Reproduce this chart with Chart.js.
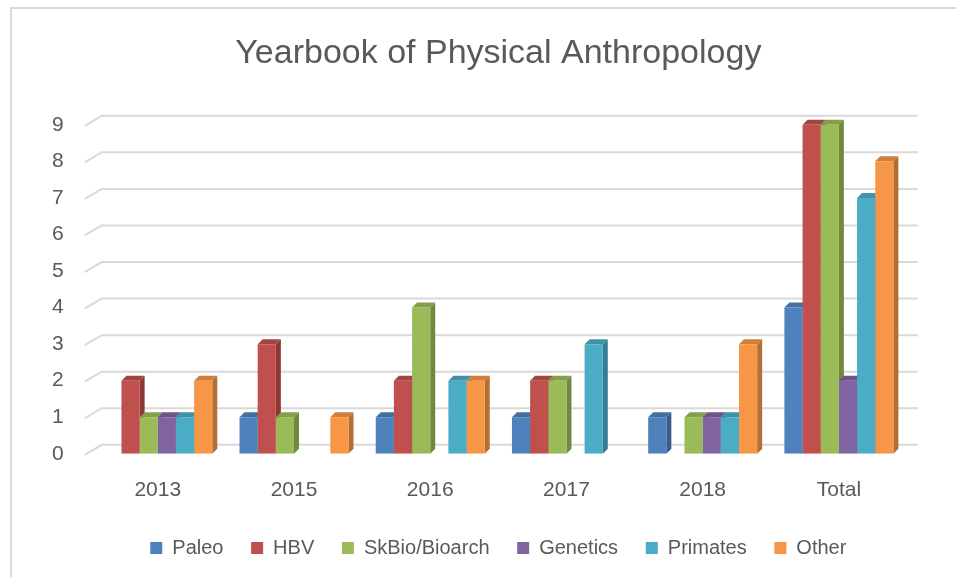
<!DOCTYPE html>
<html>
<head>
<meta charset="utf-8">
<script src="https://cdn.jsdelivr.net/npm/chart.js@4"></script>
<style>
  html, body { margin: 0; padding: 0; background: #fff; overflow: hidden; }
  #wrap { position: relative; width: 956px; height: 577px; }
  #frame { position: absolute; left: 10px; top: 7px; right: -10px; bottom: -10px;
           border-left: 2px solid #d9d9d9; border-top: 2px solid #d9d9d9; }
  canvas { position: absolute; left: 0; top: 0; }
</style>
</head>
<body>
<div id="wrap">
  <div id="frame"></div>
  <canvas id="chart" width="956" height="577"></canvas>
</div>
<script>
const years = ['2013', '2015', '2016', '2017', '2018', 'Total'];
const paleo = [0, 1, 1, 1, 1, 4];
const hbv = [2, 3, 2, 2, 0, 9];
const skbio = [1, 1, 4, 2, 1, 9];
const genetics = [1, 0, 0, 0, 1, 2];
const primates = [1, 0, 2, 3, 1, 7];
const other = [2, 1, 2, 0, 3, 8];
const yTicks = [0, 1, 2, 3, 4, 5, 6, 7, 8, 9];

const seriesNames = ['Paleo', 'HBV', 'SkBio/Bioarch', 'Genetics', 'Primates', 'Other'];
const frontColors = ['#4F81BD', '#C0504D', '#9BBB59', '#8064A2', '#4BACC6', '#F79646'];
const sideColors = ['#385D8A', '#8C3836', '#71893F', '#5C4776', '#357D91', '#B66D31'];
const topColors = ['#44709F', '#A44441', '#849F4B', '#6D5589', '#4092A8', '#D27F3B'];

const txt = '#595959';
const font = "'Liberation Sans', Arial, sans-serif";

// back wall gridlines with a short diagonal from the front edge
const gridPlugin = {
  id: 'grid3d',
  beforeDatasetsDraw(chart) {
    const ctx = chart.ctx;
    const area = chart.chartArea;
    const ys = chart.scales.y;
    ctx.save();
    ctx.strokeStyle = '#d9d9d9';
    ctx.lineWidth = 2;
    yTicks.forEach(v => {
      const y = ys.getPixelForValue(v);
      ctx.beginPath();
      ctx.moveTo(area.left - 5, y + 1);
      ctx.lineTo(area.left + 12, y - 9);
      ctx.lineTo(area.right + 11, y - 9);
      ctx.stroke();
    });
    ctx.restore();
  }
};

// side and top faces of each bar, the front is drawn by Chart.js
const depthPlugin = {
  id: 'depth',
  beforeDatasetsDraw(chart) {
    const ctx = chart.ctx;
    const dx = 5, dy = 5;
    ctx.save();
    chart.data.datasets.forEach((ds, i) => {
      const meta = chart.getDatasetMeta(i);
      meta.data.forEach((bar, j) => {
        if (!ds.data[j]) return;
        const p = bar.getProps(['x', 'y', 'base', 'width'], true);
        const l = p.x - p.width / 2, r = p.x + p.width / 2;
        ctx.fillStyle = sideColors[i];
        ctx.beginPath();
        ctx.moveTo(r, p.base);
        ctx.lineTo(r + dx, p.base - dy);
        ctx.lineTo(r + dx, p.y - dy);
        ctx.lineTo(r, p.y);
        ctx.closePath();
        ctx.fill();
        ctx.fillStyle = topColors[i];
        ctx.beginPath();
        ctx.moveTo(l, p.y);
        ctx.lineTo(l + dx, p.y - dy);
        ctx.lineTo(r + dx, p.y - dy);
        ctx.lineTo(r, p.y);
        ctx.closePath();
        ctx.fill();
      });
    });
    ctx.restore();
  }
};

const allData = [paleo, hbv, skbio, genetics, primates, other];

new Chart(document.getElementById('chart'), {
  type: 'bar',
  data: {
    labels: years,
    datasets: allData.map((d, i) => ({
      label: seriesNames[i],
      data: d,
      backgroundColor: frontColors[i],
      borderWidth: 0,
      categoryPercentage: 0.8,
      barPercentage: 1.0
    }))
  },
  options: {
    responsive: false,
    animation: false,
    layout: { padding: { left: 26, right: 49, top: 0, bottom: 9 } },
    plugins: {
      title: {
        display: true,
        fullSize: false,
        text: 'Yearbook of Physical Anthropology',
        color: txt,
        font: { family: font, size: 34, weight: 'normal' },
        padding: { top: 33, bottom: 51 }
      },
      legend: {
        position: 'bottom',
        fullSize: false,
        labels: {
          color: txt,
          font: { family: font, size: 20 },
          boxWidth: 12,
          boxHeight: 12,
          padding: 11,
          // wider gaps between items without extra height
          generateLabels(chart) {
            const items = Chart.defaults.plugins.legend.labels.generateLabels(chart);
            items.forEach((it, k) => { if (k < items.length - 1) it.text += '   '; });
            return items;
          }
        }
      },
      tooltip: { enabled: false }
    },
    scales: {
      x: {
        grid: { display: false, drawTicks: false },
        border: { display: false },
        ticks: { color: txt, font: { family: font, size: 21 }, padding: 24 }
      },
      y: {
        min: 0,
        max: 9,
        grid: { display: false, drawTicks: false },
        border: { display: false },
        ticks: { stepSize: 1, color: txt, font: { family: font, size: 21 }, padding: 26 }
      }
    }
  },
  plugins: [gridPlugin, depthPlugin]
});
</script>
</body>
</html>
